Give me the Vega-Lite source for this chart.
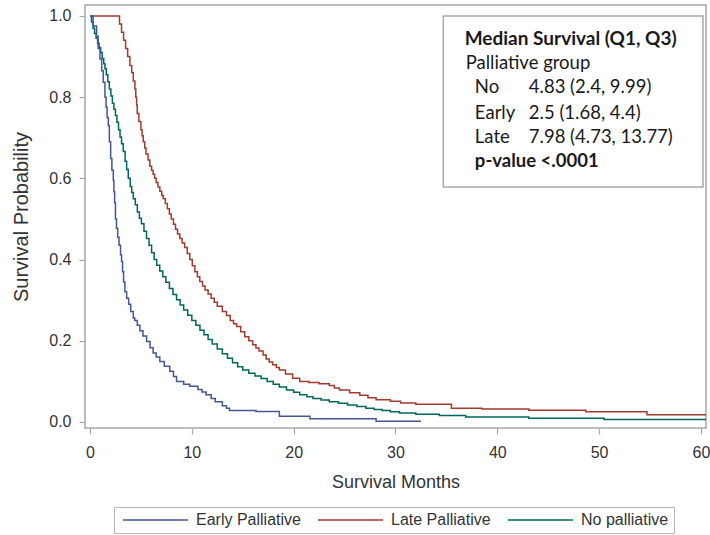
{
  "$schema": "https://vega.github.io/schema/vega-lite/v6.json",
  "width": 621,
  "height": 423,
  "autosize": {"type": "none"},
  "padding": {"left": 85, "top": 5, "right": 4, "bottom": 107},
  "background": "white",
  "config": {
    "view": {"stroke": "#a8a8a8", "strokeWidth": 1.5},
    "axis": {
      "grid": false,
      "domain": false,
      "tickColor": "#a8a8a8",
      "tickSize": 6,
      "tickWidth": 1.2,
      "labelFont": "Liberation Sans",
      "labelFontSize": 16,
      "labelColor": "#333333",
      "titleFont": "Liberation Sans",
      "titleFontSize": 18,
      "titleFontWeight": "normal",
      "titleColor": "#333333"
    },
    "legend": {
      "orient": "none",
      "legendX": 29,
      "legendY": 502,
      "direction": "horizontal",
      "title": null,
      "symbolType": "M-1,0H15.25",
      "symbolSize": 64,
      "symbolStrokeWidth": 1.5,
      "labelFont": "Liberation Sans",
      "labelFontSize": 16,
      "labelColor": "#333333",
      "labelOffset": 61,
      "columnPadding": 13,
      "strokeColor": "#b8b8b8",
      "padding": 5
    }
  },
  "layer": [
    {
      "data": {
        "values": [
          {"group": "Late Palliative", "month": 0, "surv": 1.0},
          {"group": "Late Palliative", "month": 2.72, "surv": 1.0},
          {"group": "Late Palliative", "month": 2.9, "surv": 0.98},
          {"group": "Late Palliative", "month": 3.1, "surv": 0.96},
          {"group": "Late Palliative", "month": 3.3, "surv": 0.94},
          {"group": "Late Palliative", "month": 3.5, "surv": 0.92},
          {"group": "Late Palliative", "month": 3.7, "surv": 0.9},
          {"group": "Late Palliative", "month": 3.92, "surv": 0.878},
          {"group": "Late Palliative", "month": 4.1, "surv": 0.86},
          {"group": "Late Palliative", "month": 4.25, "surv": 0.84},
          {"group": "Late Palliative", "month": 4.41, "surv": 0.82},
          {"group": "Late Palliative", "month": 4.5, "surv": 0.8},
          {"group": "Late Palliative", "month": 4.58, "surv": 0.78},
          {"group": "Late Palliative", "month": 4.64, "surv": 0.76},
          {"group": "Late Palliative", "month": 4.8, "surv": 0.74},
          {"group": "Late Palliative", "month": 5.0, "surv": 0.72},
          {"group": "Late Palliative", "month": 5.12, "surv": 0.705},
          {"group": "Late Palliative", "month": 5.23, "surv": 0.69},
          {"group": "Late Palliative", "month": 5.38, "surv": 0.675},
          {"group": "Late Palliative", "month": 5.5, "surv": 0.66},
          {"group": "Late Palliative", "month": 5.7, "surv": 0.645},
          {"group": "Late Palliative", "month": 5.88, "surv": 0.63},
          {"group": "Late Palliative", "month": 6.05, "surv": 0.62},
          {"group": "Late Palliative", "month": 6.2, "surv": 0.61},
          {"group": "Late Palliative", "month": 6.35, "surv": 0.6},
          {"group": "Late Palliative", "month": 6.5, "surv": 0.59},
          {"group": "Late Palliative", "month": 6.68, "surv": 0.579},
          {"group": "Late Palliative", "month": 6.86, "surv": 0.568},
          {"group": "Late Palliative", "month": 7.05, "surv": 0.558},
          {"group": "Late Palliative", "month": 7.2, "surv": 0.55},
          {"group": "Late Palliative", "month": 7.4, "surv": 0.538},
          {"group": "Late Palliative", "month": 7.6, "surv": 0.525},
          {"group": "Late Palliative", "month": 7.8, "surv": 0.512},
          {"group": "Late Palliative", "month": 7.98, "surv": 0.5},
          {"group": "Late Palliative", "month": 8.2, "surv": 0.487},
          {"group": "Late Palliative", "month": 8.4, "surv": 0.475},
          {"group": "Late Palliative", "month": 8.6, "surv": 0.463},
          {"group": "Late Palliative", "month": 8.82, "surv": 0.452},
          {"group": "Late Palliative", "month": 9.05, "surv": 0.441},
          {"group": "Late Palliative", "month": 9.3, "surv": 0.43},
          {"group": "Late Palliative", "month": 9.55, "surv": 0.415},
          {"group": "Late Palliative", "month": 9.8, "surv": 0.4},
          {"group": "Late Palliative", "month": 10.05, "surv": 0.385},
          {"group": "Late Palliative", "month": 10.3, "surv": 0.37},
          {"group": "Late Palliative", "month": 10.55, "surv": 0.358},
          {"group": "Late Palliative", "month": 10.78, "surv": 0.346},
          {"group": "Late Palliative", "month": 11.05, "surv": 0.335},
          {"group": "Late Palliative", "month": 11.3, "surv": 0.325},
          {"group": "Late Palliative", "month": 11.6, "surv": 0.315},
          {"group": "Late Palliative", "month": 11.9, "surv": 0.305},
          {"group": "Late Palliative", "month": 12.2, "surv": 0.295},
          {"group": "Late Palliative", "month": 12.5, "surv": 0.285},
          {"group": "Late Palliative", "month": 13.0, "surv": 0.272},
          {"group": "Late Palliative", "month": 13.4, "surv": 0.262},
          {"group": "Late Palliative", "month": 13.77, "surv": 0.25},
          {"group": "Late Palliative", "month": 14.1, "surv": 0.242},
          {"group": "Late Palliative", "month": 14.4, "surv": 0.235},
          {"group": "Late Palliative", "month": 14.8, "surv": 0.222},
          {"group": "Late Palliative", "month": 15.2, "surv": 0.21},
          {"group": "Late Palliative", "month": 15.6, "surv": 0.2},
          {"group": "Late Palliative", "month": 15.98, "surv": 0.19},
          {"group": "Late Palliative", "month": 16.3, "surv": 0.182},
          {"group": "Late Palliative", "month": 16.6, "surv": 0.175},
          {"group": "Late Palliative", "month": 17.0, "surv": 0.165},
          {"group": "Late Palliative", "month": 17.3, "surv": 0.155},
          {"group": "Late Palliative", "month": 17.6, "surv": 0.148},
          {"group": "Late Palliative", "month": 17.94, "surv": 0.141},
          {"group": "Late Palliative", "month": 18.3, "surv": 0.134},
          {"group": "Late Palliative", "month": 18.6, "surv": 0.128},
          {"group": "Late Palliative", "month": 19.2, "surv": 0.118},
          {"group": "Late Palliative", "month": 19.9, "surv": 0.108},
          {"group": "Late Palliative", "month": 20.6, "surv": 0.1},
          {"group": "Late Palliative", "month": 21.5, "surv": 0.097},
          {"group": "Late Palliative", "month": 22.5, "surv": 0.094},
          {"group": "Late Palliative", "month": 23.5, "surv": 0.09},
          {"group": "Late Palliative", "month": 24.0, "surv": 0.084},
          {"group": "Late Palliative", "month": 24.5, "surv": 0.079},
          {"group": "Late Palliative", "month": 25.5, "surv": 0.072},
          {"group": "Late Palliative", "month": 26.5, "surv": 0.066},
          {"group": "Late Palliative", "month": 27.3, "surv": 0.06},
          {"group": "Late Palliative", "month": 28.1, "surv": 0.055},
          {"group": "Late Palliative", "month": 29.5, "surv": 0.051},
          {"group": "Late Palliative", "month": 30.5, "surv": 0.047},
          {"group": "Late Palliative", "month": 32.0, "surv": 0.044},
          {"group": "Late Palliative", "month": 35.5, "surv": 0.034},
          {"group": "Late Palliative", "month": 38.5, "surv": 0.032},
          {"group": "Late Palliative", "month": 43.1, "surv": 0.029},
          {"group": "Late Palliative", "month": 48.7, "surv": 0.025},
          {"group": "Late Palliative", "month": 54.7, "surv": 0.018},
          {"group": "Late Palliative", "month": 60.5, "surv": 0.018},
          {"group": "No palliative", "month": 0, "surv": 1.0},
          {"group": "No palliative", "month": 0.15, "surv": 0.985},
          {"group": "No palliative", "month": 0.3, "surv": 0.97},
          {"group": "No palliative", "month": 0.45, "surv": 0.957},
          {"group": "No palliative", "month": 0.6, "surv": 0.945},
          {"group": "No palliative", "month": 0.75, "surv": 0.932},
          {"group": "No palliative", "month": 0.9, "surv": 0.922},
          {"group": "No palliative", "month": 1.05, "surv": 0.91},
          {"group": "No palliative", "month": 1.2, "surv": 0.895},
          {"group": "No palliative", "month": 1.35, "surv": 0.882},
          {"group": "No palliative", "month": 1.47, "surv": 0.87},
          {"group": "No palliative", "month": 1.6, "surv": 0.855},
          {"group": "No palliative", "month": 1.75, "surv": 0.838},
          {"group": "No palliative", "month": 1.9, "surv": 0.82},
          {"group": "No palliative", "month": 2.05, "surv": 0.803},
          {"group": "No palliative", "month": 2.2, "surv": 0.785},
          {"group": "No palliative", "month": 2.35, "surv": 0.77},
          {"group": "No palliative", "month": 2.5, "surv": 0.755},
          {"group": "No palliative", "month": 2.65, "surv": 0.738},
          {"group": "No palliative", "month": 2.8, "surv": 0.72},
          {"group": "No palliative", "month": 2.95, "surv": 0.702},
          {"group": "No palliative", "month": 3.1, "surv": 0.685},
          {"group": "No palliative", "month": 3.27, "surv": 0.666},
          {"group": "No palliative", "month": 3.45, "surv": 0.642},
          {"group": "No palliative", "month": 3.6, "surv": 0.622},
          {"group": "No palliative", "month": 3.76, "surv": 0.6},
          {"group": "No palliative", "month": 3.95, "surv": 0.58},
          {"group": "No palliative", "month": 4.1, "surv": 0.565},
          {"group": "No palliative", "month": 4.25, "surv": 0.55},
          {"group": "No palliative", "month": 4.45, "surv": 0.535},
          {"group": "No palliative", "month": 4.65, "surv": 0.517},
          {"group": "No palliative", "month": 4.85, "surv": 0.502},
          {"group": "No palliative", "month": 5.05, "surv": 0.488},
          {"group": "No palliative", "month": 5.3, "surv": 0.47},
          {"group": "No palliative", "month": 5.55, "surv": 0.452},
          {"group": "No palliative", "month": 5.8, "surv": 0.435},
          {"group": "No palliative", "month": 6.05, "surv": 0.417},
          {"group": "No palliative", "month": 6.3, "surv": 0.4},
          {"group": "No palliative", "month": 6.55, "surv": 0.386},
          {"group": "No palliative", "month": 6.85, "surv": 0.372},
          {"group": "No palliative", "month": 7.15, "surv": 0.358},
          {"group": "No palliative", "month": 7.45, "surv": 0.344},
          {"group": "No palliative", "month": 7.8, "surv": 0.329},
          {"group": "No palliative", "month": 8.15, "surv": 0.314},
          {"group": "No palliative", "month": 8.5, "surv": 0.301},
          {"group": "No palliative", "month": 8.85, "surv": 0.288},
          {"group": "No palliative", "month": 9.2, "surv": 0.276},
          {"group": "No palliative", "month": 9.6, "surv": 0.263},
          {"group": "No palliative", "month": 10.0, "surv": 0.25},
          {"group": "No palliative", "month": 10.4, "surv": 0.238},
          {"group": "No palliative", "month": 10.8, "surv": 0.226},
          {"group": "No palliative", "month": 11.2, "surv": 0.215},
          {"group": "No palliative", "month": 11.6, "surv": 0.203},
          {"group": "No palliative", "month": 12.0, "surv": 0.192},
          {"group": "No palliative", "month": 12.5, "surv": 0.18},
          {"group": "No palliative", "month": 13.0, "surv": 0.168},
          {"group": "No palliative", "month": 13.5, "surv": 0.157},
          {"group": "No palliative", "month": 14.0, "surv": 0.146},
          {"group": "No palliative", "month": 14.5, "surv": 0.136},
          {"group": "No palliative", "month": 15.0, "surv": 0.128},
          {"group": "No palliative", "month": 15.6, "surv": 0.12},
          {"group": "No palliative", "month": 16.2, "surv": 0.113},
          {"group": "No palliative", "month": 16.8, "surv": 0.107},
          {"group": "No palliative", "month": 17.4, "surv": 0.1},
          {"group": "No palliative", "month": 18.0, "surv": 0.093},
          {"group": "No palliative", "month": 18.6, "surv": 0.086},
          {"group": "No palliative", "month": 19.3, "surv": 0.079},
          {"group": "No palliative", "month": 20.0, "surv": 0.073},
          {"group": "No palliative", "month": 20.6, "surv": 0.067},
          {"group": "No palliative", "month": 21.3, "surv": 0.062},
          {"group": "No palliative", "month": 21.9, "surv": 0.058},
          {"group": "No palliative", "month": 22.7, "surv": 0.054},
          {"group": "No palliative", "month": 23.5, "surv": 0.05},
          {"group": "No palliative", "month": 24.4, "surv": 0.046},
          {"group": "No palliative", "month": 25.3, "surv": 0.042},
          {"group": "No palliative", "month": 26.2, "surv": 0.038},
          {"group": "No palliative", "month": 27.1, "surv": 0.034},
          {"group": "No palliative", "month": 27.9, "surv": 0.031},
          {"group": "No palliative", "month": 28.7, "surv": 0.028},
          {"group": "No palliative", "month": 29.5, "surv": 0.025},
          {"group": "No palliative", "month": 30.4, "surv": 0.022},
          {"group": "No palliative", "month": 32.0, "surv": 0.019},
          {"group": "No palliative", "month": 34.3, "surv": 0.016},
          {"group": "No palliative", "month": 36.9, "surv": 0.012},
          {"group": "No palliative", "month": 43.1, "surv": 0.009},
          {"group": "No palliative", "month": 50.5, "surv": 0.006},
          {"group": "No palliative", "month": 60.5, "surv": 0.006},
          {"group": "Early Palliative", "month": 0, "surv": 1.0},
          {"group": "Early Palliative", "month": 0.3, "surv": 0.975},
          {"group": "Early Palliative", "month": 0.65, "surv": 0.95},
          {"group": "Early Palliative", "month": 0.8, "surv": 0.92},
          {"group": "Early Palliative", "month": 0.98, "surv": 0.894},
          {"group": "Early Palliative", "month": 1.15, "surv": 0.865},
          {"group": "Early Palliative", "month": 1.3, "surv": 0.837},
          {"group": "Early Palliative", "month": 1.47, "surv": 0.8},
          {"group": "Early Palliative", "month": 1.58, "surv": 0.775},
          {"group": "Early Palliative", "month": 1.68, "surv": 0.75},
          {"group": "Early Palliative", "month": 1.8, "surv": 0.73},
          {"group": "Early Palliative", "month": 1.9, "surv": 0.69},
          {"group": "Early Palliative", "month": 2.03, "surv": 0.649},
          {"group": "Early Palliative", "month": 2.15, "surv": 0.62},
          {"group": "Early Palliative", "month": 2.29, "surv": 0.595},
          {"group": "Early Palliative", "month": 2.35, "surv": 0.567},
          {"group": "Early Palliative", "month": 2.42, "surv": 0.54},
          {"group": "Early Palliative", "month": 2.5, "surv": 0.5},
          {"group": "Early Palliative", "month": 2.6, "surv": 0.477},
          {"group": "Early Palliative", "month": 2.72, "surv": 0.455},
          {"group": "Early Palliative", "month": 2.85, "surv": 0.435},
          {"group": "Early Palliative", "month": 3.0, "surv": 0.412},
          {"group": "Early Palliative", "month": 3.1, "surv": 0.395},
          {"group": "Early Palliative", "month": 3.2, "surv": 0.37},
          {"group": "Early Palliative", "month": 3.3, "surv": 0.345},
          {"group": "Early Palliative", "month": 3.43, "surv": 0.321},
          {"group": "Early Palliative", "month": 3.6, "surv": 0.305},
          {"group": "Early Palliative", "month": 3.8, "surv": 0.29},
          {"group": "Early Palliative", "month": 4.0, "surv": 0.272},
          {"group": "Early Palliative", "month": 4.25, "surv": 0.256},
          {"group": "Early Palliative", "month": 4.4, "surv": 0.25},
          {"group": "Early Palliative", "month": 4.65, "surv": 0.238},
          {"group": "Early Palliative", "month": 4.9, "surv": 0.225},
          {"group": "Early Palliative", "month": 5.2, "surv": 0.212},
          {"group": "Early Palliative", "month": 5.56, "surv": 0.198},
          {"group": "Early Palliative", "month": 5.9, "surv": 0.183},
          {"group": "Early Palliative", "month": 6.2, "surv": 0.17},
          {"group": "Early Palliative", "month": 6.5, "surv": 0.16},
          {"group": "Early Palliative", "month": 6.86, "surv": 0.149},
          {"group": "Early Palliative", "month": 7.3, "surv": 0.137},
          {"group": "Early Palliative", "month": 7.84, "surv": 0.125},
          {"group": "Early Palliative", "month": 8.2, "surv": 0.112},
          {"group": "Early Palliative", "month": 8.5, "surv": 0.1},
          {"group": "Early Palliative", "month": 9.2, "surv": 0.093},
          {"group": "Early Palliative", "month": 9.8, "surv": 0.088},
          {"group": "Early Palliative", "month": 10.6, "surv": 0.08},
          {"group": "Early Palliative", "month": 11.0, "surv": 0.074},
          {"group": "Early Palliative", "month": 11.4, "surv": 0.067},
          {"group": "Early Palliative", "month": 11.9, "surv": 0.058},
          {"group": "Early Palliative", "month": 12.3, "surv": 0.05},
          {"group": "Early Palliative", "month": 13.0, "surv": 0.04},
          {"group": "Early Palliative", "month": 13.4, "surv": 0.034},
          {"group": "Early Palliative", "month": 13.7, "surv": 0.028},
          {"group": "Early Palliative", "month": 16.3, "surv": 0.026},
          {"group": "Early Palliative", "month": 18.6, "surv": 0.014},
          {"group": "Early Palliative", "month": 21.6, "surv": 0.008},
          {"group": "Early Palliative", "month": 28.1, "surv": 0.002},
          {"group": "Early Palliative", "month": 32.5, "surv": 0.002}
        ]
      },
      "mark": {"type": "line", "interpolate": "step-after", "strokeWidth": 1.5, "clip": true},
      "encoding": {
        "x": {
          "field": "month",
          "type": "quantitative",
          "scale": {"domain": [-0.49, 60.5], "nice": false, "zero": false},
          "axis": {"title": "Survival Months", "values": [0, 10, 20, 30, 40, 50, 60], "labelPadding": 10, "titlePadding": 13, "labelFlush": false}
        },
        "y": {
          "field": "surv",
          "type": "quantitative",
          "scale": {"domain": [-0.0148, 1.027], "nice": false, "zero": false},
          "axis": {"title": "Survival Probability", "titleFontSize": 20, "values": [0, 0.2, 0.4, 0.6, 0.8, 1.0], "format": ".1f", "labelPadding": 8, "titlePadding": 17, "labelFlush": false}
        },
        "color": {
          "field": "group",
          "type": "nominal",
          "scale": {"domain": ["Early Palliative", "Late Palliative", "No palliative"], "range": ["#445694", "#A23A2E", "#01665E"]}
        },
        "detail": {"field": "group"}
      }
    },
    {
      "data": {"values": [{}]},
      "mark": {"type": "rect", "fill": "white", "stroke": "#a8a8a8", "strokeWidth": 1.5},
      "encoding": {
        "x": {"datum": 34.7, "type": "quantitative"},
        "x2": {"datum": 60.2},
        "y": {"datum": 1.0, "type": "quantitative"},
        "y2": {"datum": 0.579}
      }
    },
    {
      "data": {"values": [{}]},
      "mark": {"type": "text", "text": "Median Survival (Q1, Q3)", "align": "left", "baseline": "middle", "font": "Lato", "fontSize": 19, "fontWeight": "bold", "color": "#1a1a1a"},
      "encoding": {"x": {"datum": 36.8, "type": "quantitative"}, "y": {"datum": 0.943, "type": "quantitative"}}
    },
    {
      "data": {"values": [{}]},
      "mark": {"type": "text", "text": "Palliative group", "align": "left", "baseline": "middle", "font": "Lato", "fontSize": 18.5, "color": "#1a1a1a"},
      "encoding": {"x": {"datum": 36.9, "type": "quantitative"}, "y": {"datum": 0.885, "type": "quantitative"}}
    },
    {
      "data": {"values": [{}]},
      "mark": {"type": "text", "text": "No", "align": "left", "baseline": "middle", "font": "Lato", "fontSize": 18.5, "color": "#1a1a1a"},
      "encoding": {"x": {"datum": 37.8, "type": "quantitative"}, "y": {"datum": 0.824, "type": "quantitative"}}
    },
    {
      "data": {"values": [{}]},
      "mark": {"type": "text", "text": "4.83 (2.4, 9.99)", "align": "left", "baseline": "middle", "font": "Lato", "fontSize": 18.5, "color": "#1a1a1a"},
      "encoding": {"x": {"datum": 43.1, "type": "quantitative"}, "y": {"datum": 0.824, "type": "quantitative"}}
    },
    {
      "data": {"values": [{}]},
      "mark": {"type": "text", "text": "Early", "align": "left", "baseline": "middle", "font": "Lato", "fontSize": 18.5, "color": "#1a1a1a"},
      "encoding": {"x": {"datum": 37.8, "type": "quantitative"}, "y": {"datum": 0.762, "type": "quantitative"}}
    },
    {
      "data": {"values": [{}]},
      "mark": {"type": "text", "text": "2.5 (1.68, 4.4)", "align": "left", "baseline": "middle", "font": "Lato", "fontSize": 18.5, "color": "#1a1a1a"},
      "encoding": {"x": {"datum": 43.1, "type": "quantitative"}, "y": {"datum": 0.762, "type": "quantitative"}}
    },
    {
      "data": {"values": [{}]},
      "mark": {"type": "text", "text": "Late", "align": "left", "baseline": "middle", "font": "Lato", "fontSize": 18.5, "color": "#1a1a1a"},
      "encoding": {"x": {"datum": 37.8, "type": "quantitative"}, "y": {"datum": 0.703, "type": "quantitative"}}
    },
    {
      "data": {"values": [{}]},
      "mark": {"type": "text", "text": "7.98 (4.73, 13.77)", "align": "left", "baseline": "middle", "font": "Lato", "fontSize": 18.5, "color": "#1a1a1a"},
      "encoding": {"x": {"datum": 43.1, "type": "quantitative"}, "y": {"datum": 0.703, "type": "quantitative"}}
    },
    {
      "data": {"values": [{}]},
      "mark": {"type": "text", "text": "p-value <.0001", "align": "left", "baseline": "middle", "font": "Lato", "fontSize": 18.5, "fontWeight": "bold", "color": "#1a1a1a"},
      "encoding": {"x": {"datum": 37.8, "type": "quantitative"}, "y": {"datum": 0.644, "type": "quantitative"}}
    }
  ]
}
